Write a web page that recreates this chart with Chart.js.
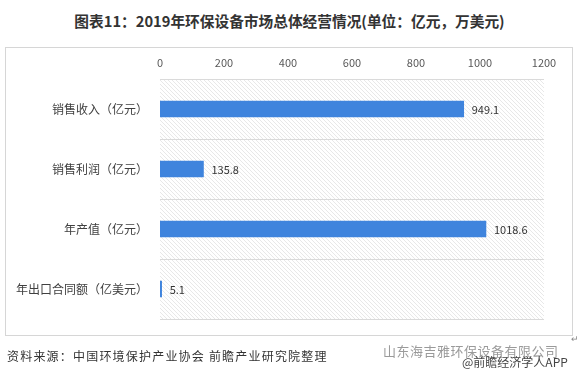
<!DOCTYPE html>
<html>
<head>
<meta charset="utf-8">
<script src="https://cdn.jsdelivr.net/npm/chart.js@4"></script>
<style>
html,body{margin:0;padding:0;background:#fff;}
#wrap{position:relative;width:579px;height:379px;overflow:hidden;font-family:"Noto Sans CJK SC","Noto Sans",sans-serif;}
#title{position:absolute;left:0;top:10px;width:579px;text-align:center;font-weight:bold;font-size:14.7px;color:#333;}
#box{position:absolute;left:5px;top:47px;width:566px;height:287px;border:1px solid #d6d6d6;}
canvas{position:absolute;left:0;top:0;}
#src{position:absolute;left:7px;top:347px;font-size:12px;color:#333;letter-spacing:1.2px;}
#wm1{position:absolute;left:383px;top:341px;font-size:13px;color:#9a9a9a;letter-spacing:0.5px;}
#wm2{position:absolute;left:462px;top:353px;font-size:12px;color:#444;}
#ret{position:absolute;left:571px;top:332px;font-size:9px;color:#888;}
</style>
</head>
<body>
<div id="wrap">
<div id="title">图表11：2019年环保设备市场总体经营情况(单位：亿元，万美元)</div>
<div id="box"></div>
<canvas id="c" width="579" height="379"></canvas>
<div id="src">资料来源：中国环境保护产业协会 前瞻产业研究院整理</div>
<div id="wm1">山东海吉雅环保设备有限公司</div>
<div id="wm2">@前瞻经济学人APP</div>
<div id="ret">↵</div>
</div>
<script>
const categories = ["销售收入（亿元）","销售利润（亿元）","年产值（亿元）","年出口合同额（亿美元）"];
const values = [949.1, 135.8, 1018.6, 5.1];
const valueLabels = ["949.1","135.8","1018.6","5.1"];
const xTicks = [0,200,400,600,800,1000,1200];

function makePattern(ctx){
  const p = document.createElement('canvas');
  p.width = 4; p.height = 4;
  const g = p.getContext('2d');
  g.fillStyle = '#ffffff'; g.fillRect(0,0,4,4);
  g.strokeStyle = '#e2e2e2'; g.lineWidth = 0.8;
  g.beginPath();
  g.moveTo(0,0); g.lineTo(4,4);
  g.moveTo(-1,3); g.lineTo(1,5);
  g.moveTo(3,-1); g.lineTo(5,1);
  g.stroke();
  return ctx.createPattern(p,'repeat');
}

const hatchPlugin = {
  id:'hatch',
  beforeDraw(chart){
    const {ctx, chartArea:a} = chart;
    ctx.save();
    ctx.fillStyle = makePattern(ctx);
    ctx.fillRect(a.left, a.top, a.right-a.left, a.bottom-a.top);
    ctx.restore();
  }
};
const labelPlugin = {
  id:'vlabels',
  afterDatasetsDraw(chart){
    const {ctx} = chart;
    const meta = chart.getDatasetMeta(0);
    ctx.save();
    ctx.font = '11px "Noto Sans CJK SC", sans-serif';
    ctx.fillStyle = '#333';
    ctx.textBaseline = 'middle';
    ctx.textAlign = 'left';
    meta.data.forEach((bar,i)=>{
      ctx.fillText(valueLabels[i], bar.x + 8, bar.y + 1);
    });
    ctx.restore();
  }
};

new Chart(document.getElementById('c'), {
  type:'bar',
  data:{
    labels:categories,
    datasets:[{data:values, backgroundColor:'#3f84dd', barThickness:16}]
  },
  options:{
    responsive:false,
    animation:false,
    indexAxis:'y',
    layout:{padding:{left:5,right:35,top:47,bottom:60}},
    plugins:{legend:{display:false},tooltip:{enabled:false}},
    scales:{
      x:{
        position:'top',
        min:0,max:1200,
        afterBuildTicks(s){ s.ticks = xTicks.map(v=>({value:v})); },
        afterFit(s){ s.height = 32; },
        grid:{display:false, drawTicks:false},
        border:{display:false},
        ticks:{color:'#595959', font:{size:11, family:'"Noto Sans CJK SC", sans-serif'}, padding:10,
               callback:(v)=>String(v)}
      },
      y:{
        afterFit(s){ s.width = 155; },
        grid:{offset:true, color:'#dadada', drawTicks:false, lineWidth:1},
        border:{display:false},
        ticks:{color:'#404040', font:{size:12, family:'"Noto Sans CJK SC", sans-serif'}, padding:12}
      }
    }
  },
  plugins:[hatchPlugin, labelPlugin]
});
</script>
</body>
</html>
